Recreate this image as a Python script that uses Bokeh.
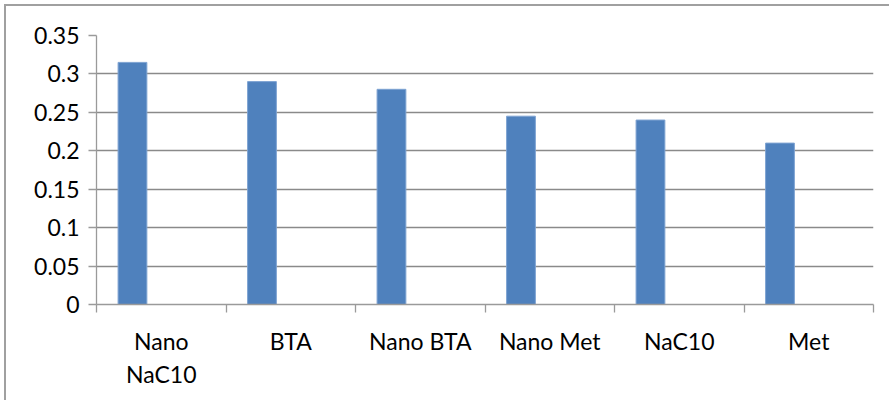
import numpy as np
from bokeh.plotting import figure
from bokeh.models import Range1d, FixedTicker, ColumnDataSource
from bokeh.embed import file_html
from bokeh.resources import INLINE

# ---- data ----
categories = ["Nano\nNaC10", "BTA", "Nano BTA", "Nano Met", "NaC10", "Met"]
values = [0.315, 0.29, 0.28, 0.245, 0.24, 0.21]
y_ticks = [0, 0.05, 0.1, 0.15, 0.2, 0.25, 0.3, 0.35]
y_tick_labels = ["0", "0.05", "0.1", "0.15", "0.2", "0.25", "0.3", "0.35"]

# Excel-style clustered layout: 3 series slots, gap width 150%
n_slots = 3
gap = 1.5
slot_w = 1.0 / (n_slots + gap)
bar_offset = gap / 2 * slot_w + slot_w / 2

idx = np.arange(len(categories))
centers = idx + 0.5
src = ColumnDataSource(dict(x=idx + bar_offset, top=values))

FONT = "Lato"
OFF = 6
W, H = 891 - OFF, 402 - OFF

p = figure(width=W, height=H, output_backend="svg", toolbar_location=None,
           x_range=Range1d(0, len(categories)), y_range=Range1d(0, 0.35),
           min_border_left=96 - OFF, min_border_right=18, min_border_top=35 - OFF,
           min_border_bottom=98, outline_line_color=None,
           background_fill_color="white", border_fill_color="white",
           styles={"margin-left": "4px", "margin-top": "4px",
                   "border-left": "2px solid #a0a0a0",
                   "border-top": "2px solid #a0a0a0"})

p.vbar(x="x", top="top", width=slot_w, bottom=0, source=src,
       fill_color="#4F81BD", line_color="#7EA3D2", line_width=1)

# y axis
p.yaxis.ticker = FixedTicker(ticks=y_ticks)
p.yaxis.major_label_overrides = {t: l for t, l in zip(y_ticks, y_tick_labels)}
p.yaxis.major_tick_out = 8
p.yaxis.major_tick_in = 0
p.yaxis.minor_tick_line_color = None
p.yaxis.axis_line_color = "#9a9a9a"
p.yaxis.major_tick_line_color = "#9a9a9a"
p.yaxis.axis_line_width = 1.3
p.yaxis.major_tick_line_width = 1.3
p.yaxis.major_label_standoff = 9

# x axis: labels at category centres, ticks at boundaries
p.xaxis.ticker = FixedTicker(ticks=list(centers), minor_ticks=list(np.arange(len(categories) + 1)))
p.xaxis.major_label_overrides = {float(c): lab for c, lab in zip(centers, categories)}
p.xaxis.major_tick_line_color = None
p.xaxis.minor_tick_out = 8
p.xaxis.minor_tick_in = 0
p.xaxis.minor_tick_line_color = "#9a9a9a"
p.xaxis.minor_tick_line_width = 1.3
p.xaxis.axis_line_color = "#9a9a9a"
p.xaxis.axis_line_width = 1.3
p.xaxis.major_label_standoff = 14

for ax in (p.xaxis, p.yaxis):
    ax.major_label_text_font = FONT
    ax.major_label_text_font_size = "23px"
    ax.major_label_text_color = "#000000"

p.xgrid.visible = False
p.ygrid.ticker = FixedTicker(ticks=y_ticks)
p.ygrid.grid_line_color = "#8a8a8a"
p.ygrid.grid_line_width = 1.3

open("out.html", "w").write(file_html(p, INLINE))
